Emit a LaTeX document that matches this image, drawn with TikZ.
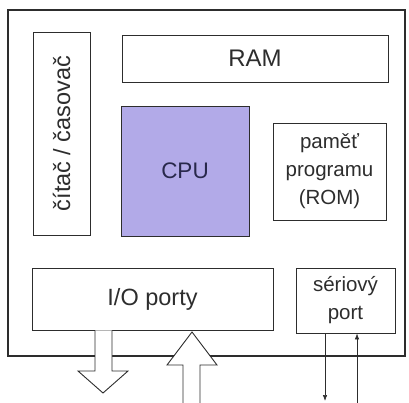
\documentclass[tikz,border=0pt]{standalone}
\usepackage{fontspec}
\setmainfont{Liberation Sans}
\usetikzlibrary{arrows.meta}
\definecolor{ramec}{RGB}{45,45,45}
\definecolor{cpufill}{RGB}{178,170,232}
\tikzset{
  blok/.style={draw=ramec, line width=0.9pt, inner sep=0pt, align=center,
    font=\fontsize{20.5}{28}\selectfont, text=ramec},
  sipka/.style={draw=ramec, line width=0.9pt, fill=white},
  tenka/.style={draw=ramec, line width=0.6pt, -{Latex[length=6pt,width=4.5pt]}}
}
\begin{document}
\begin{tikzpicture}[x=1pt,y=-1pt]
\useasboundingbox (0,0) rectangle (409,403);
% vnejsi ramec
\draw[ramec, line width=1.3pt] (8,10) rectangle (405,356);

\node[blok, minimum width=266pt, minimum height=47pt, font=\fontsize{24}{28}\selectfont] (ram) at (255,58.5) {RAM};
\node[blok, rotate=90, minimum width=203pt, minimum height=57pt, font=\fontsize{23.5}{28}\selectfont] (citac) at (61.5,133.5) {čítač / časovač};
\node[blok, fill=cpufill, minimum width=128pt, minimum height=130pt, font=\fontsize{22.5}{28}\selectfont, text={rgb,255:red,40;green,40;blue,75}] (cpu) at (185,171) {CPU};
\node[blok, minimum width=113pt, minimum height=97pt] (rom) at (329.5,171.5) {paměť\\programu\\(ROM)};
\node[blok, minimum width=241pt, minimum height=62pt, font=\fontsize{23.5}{28}\selectfont] (io) at (152.5,299) {I/O porty};
\node[blok, minimum width=99pt, minimum height=65pt] (ser) at (345.5,300.5) {sériový\\port};

% sipky I/O
\draw[sipka] (io.south -| 95,0) -- (95,371) -- (78,371) -- (103,393) -- (128,371) -- (112,371) -- (io.south -| 112,0);
\coordinate (vstup) at (192,332);
\draw[sipka] (183,404) -- (183,365) -- (167,365) -- (vstup) -- (217,365) -- (200,365) -- (200,404);

% seriova linka
\coordinate (tx) at (325,401);
\coordinate (rx) at (357,404);
\draw[tenka] (ser.south -| tx) -- (tx);
\draw[tenka] (rx) -- (ser.south -| rx);
\end{tikzpicture}
\end{document}
